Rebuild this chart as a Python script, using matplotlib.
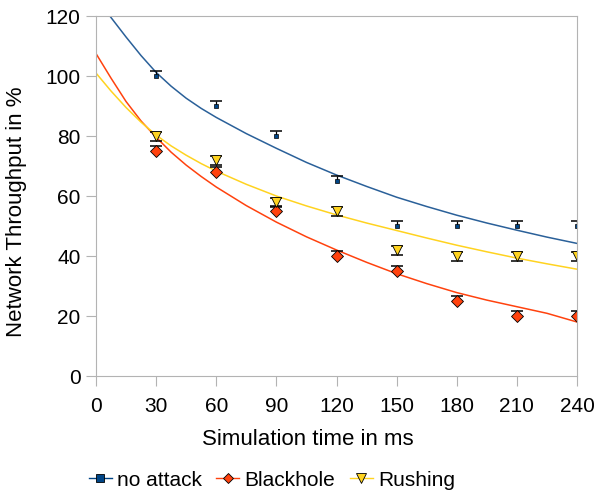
import numpy as np
import matplotlib
matplotlib.use('Agg')
import matplotlib.pyplot as plt

plt.rcParams['font.family'] = ['Liberation Sans', 'DejaVu Sans']

# measured points
sim_time = [30, 60, 90, 120, 150, 180, 210, 240]
no_attack = [100, 90, 80, 65, 50, 50, 50, 50]
blackhole = [75, 68, 55, 40, 35, 25, 20, 20]
rushing = [80, 72, 58, 55, 42, 40, 40, 40]
err_no_attack = [1.7, 1.8, 1.8, 1.6, 1.8, 1.6, 1.7, 1.8]
err_blackhole = [1.6, 1.6, 1.6, 1.6, 1.7, 1.6, 1.6, 1.6]
err_rushing = [1.5, 1.5, 1.5, 1.5, 1.5, 1.5, 1.5, 1.5]

# trend lines
trend_x = [0, 7.5, 15, 22.5, 30, 37.5, 45, 52.5, 60, 75, 90, 105, 120, 135, 150, 165, 180, 195, 210, 225, 240]
trend_no_attack = [126, 119.5, 113, 106.8, 101.2, 96.6, 92.6, 89.2, 86.2, 80.8, 75.9, 71.2, 67, 63.2, 59.6,
                   56.5, 53.6, 51, 48.6, 46.3, 44.2]
trend_blackhole = [107.5, 99.3, 91.5, 85, 79.6, 74.6, 70.3, 66.5, 63, 56.8, 51.3, 46.4, 42, 37.9, 34.1,
                   30.8, 27.8, 25.3, 23.1, 20.9, 18]
trend_rushing = [101, 95, 89.5, 84.6, 80.3, 76.7, 73.6, 70.8, 68.3, 63.9, 60, 56.7, 53.7, 51, 48.5,
                 46, 43.6, 41.4, 39.3, 37.4, 35.6]

blue = '#004586'
red = '#ff420e'
yellow = '#ffd320'

fig = plt.figure(figsize=(5.98, 4.93), dpi=100)
ax = fig.add_axes([0.1605, 0.2373, 0.8045, 0.7302])

ax.plot(trend_x, trend_no_attack, color='#2a6099', lw=1.1)
ax.plot(trend_x, trend_blackhole, color=red, lw=1.1)
ax.plot(trend_x, trend_rushing, color=yellow, lw=1.1)

# upper-only error bars for no attack / blackhole
for ys, es in [(no_attack, err_no_attack), (blackhole, err_blackhole)]:
    tops = np.array(ys) + np.array(es)
    ax.vlines(sim_time, ys, tops, color='black', lw=0.9)
    ax.plot(sim_time, tops, '_', color='black', ms=8, mew=1.1, ls='none')
ax.errorbar(sim_time, rushing, yerr=err_rushing, fmt='none',
            ecolor='black', elinewidth=0.9, capsize=4, capthick=1.1)

ax.plot(sim_time, no_attack, 's', color=blue, ms=3.5, mec='black', mew=0.5, ls='none')
ax.plot(sim_time, blackhole, 'D', color=red, ms=6.5, mec='black', mew=0.6, ls='none')
ax.plot(sim_time, rushing, 'v', color=yellow, ms=7, mec='black', mew=0.6, ls='none')

ax.set_xlim(0, 240)
ax.set_ylim(0, 120)
ax.set_xticks(range(0, 241, 30))
ax.set_yticks(range(0, 121, 20))
for s in ax.spines.values():
    s.set_color('#b3b3b3')
ax.tick_params(colors='#b3b3b3', labelcolor='black', length=7, labelsize=15)
ax.tick_params(axis='x', pad=8)
ax.tick_params(axis='y', pad=4)
ax.set_xlabel('Simulation time in ms', fontsize=16)
ax.set_ylabel('Network Throughput in %', fontsize=16)
ax.xaxis.set_label_coords(0.441, -0.147)
ax.yaxis.set_label_coords(-0.143, 0.456)

# legend handles
h1, = ax.plot([], [], color=blue, marker='s', ms=5.5, mec='black', mew=0.6, lw=1)
h2, = ax.plot([], [], color=red, marker='D', ms=5.5, mec='black', mew=0.6, lw=1)
h3, = ax.plot([], [], color=yellow, marker='v', ms=7, mec='black', mew=0.6, lw=1)
fig.legend([h1, h2, h3], ['no attack', 'Blackhole', 'Rushing'], loc='center left',
           bbox_to_anchor=(0.131, 0.026), ncol=3, frameon=False, fontsize=15,
           borderpad=0, handlelength=1.1, handletextpad=0.25, columnspacing=0.7)

fig.savefig('out.png', dpi=100)
